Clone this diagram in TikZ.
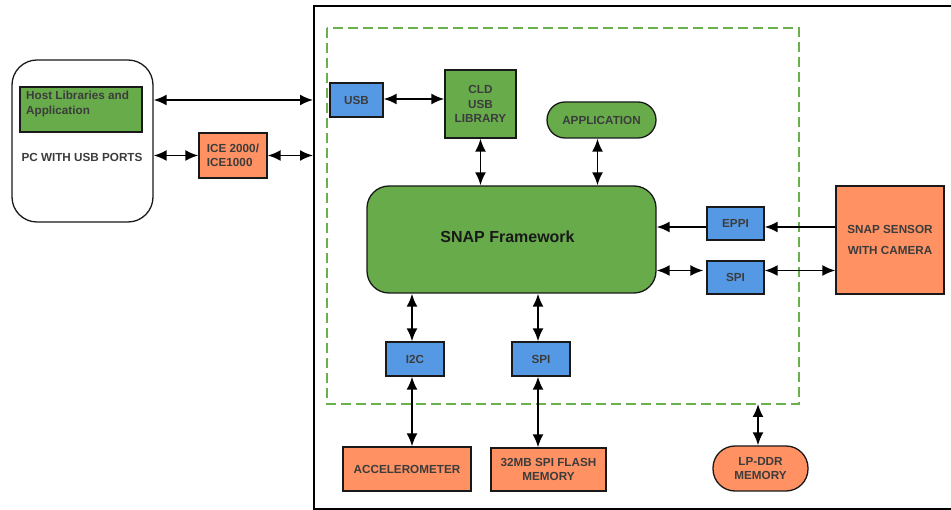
\documentclass[tikz,border=0pt]{standalone}
\usepackage{fontspec}
\setmainfont{Liberation Sans}
\usetikzlibrary{arrows.meta,calc}
\definecolor{gfill}{HTML}{67AB4B}
\definecolor{bfill}{HTML}{5599E5}
\definecolor{ofill}{HTML}{FF9163}
\definecolor{dgreen}{HTML}{6AB04C}
\definecolor{txt}{HTML}{3C3C3C}
\tikzset{
  lbl/.style={inner sep=0pt, font=\bfseries\fontsize{11.7}{14.5}\selectfont, text=txt, align=center},
  box/.style={lbl, draw=black!90, line width=1.3pt},
  gbox/.style={box, fill=gfill},
  bbox/.style={box, fill=bfill},
  obox/.style={box, fill=ofill},
  conn/.style={line width=1.9pt, {Latex[length=13pt,width=11pt]}-{Latex[length=13pt,width=11pt]}},
  onearr/.style={line width=1.9pt, -{Latex[length=13pt,width=11pt]}},
}
\begin{document}
\begin{tikzpicture}[x=1pt,y={(0pt,-1pt)}]
\useasboundingbox (0,0) rectangle (951,510);
% board outline
\draw[line width=1.6pt] (951,6) -- (314,6) -- (314,509) -- (951,509);
% dashed processor region
\draw[dgreen, line width=1.8pt, dash pattern=on 10pt off 5pt] (327,28) rectangle (799,404);
\coordinate (bh) at (313,100);
\coordinate (bi) at (313,155.5);
\coordinate (dd) at (758,404);

% PC side
\node[box, rounded corners=25pt, fill=white, minimum width=141, minimum height=162] (pc) at (82.5,141) {};
\node[gbox, minimum width=122, minimum height=45] (host) at (81,109.5) {};
\node[lbl, anchor=north west, align=left] (hostt) at (26,91) {Host Libraries and\\Application};
\node[lbl] (pct) at (82,157) {PC WITH USB PORTS};
\node[obox, minimum width=68, minimum height=45, align=left] (ice) at (233,155.5) {ICE 2000/\\ICE1000};

% processor blocks
\node[bbox, minimum width=53, minimum height=34] (usb) at (356.5,100) {USB};
\node[gbox, minimum width=71, minimum height=68] (cld) at (480.5,104) {CLD\\USB\\LIBRARY};
\node[gbox, rounded corners=18pt, minimum width=109, minimum height=36] (app) at (601.5,120) {APPLICATION};
\node[gbox, rounded corners=22pt, minimum width=289, minimum height=107, text=black!90, font=\bfseries\fontsize{16}{19}\selectfont] (snap) at (511.5,239.5) {\raisebox{6pt}{SNAP Framework\hspace{8pt}}};
\node[bbox, minimum width=57, minimum height=33] (eppi) at (735.5,223.5) {EPPI};
\node[bbox, minimum width=57, minimum height=33] (spir) at (735.5,277.5) {SPI};
\node[obox, minimum width=108, minimum height=108, font=\bfseries\fontsize{11.7}{21.5}\selectfont] (sensor) at (890,240) {\raisebox{-3pt}{SNAP SENSOR}\\\raisebox{-3pt}{WITH CAMERA}};
\node[bbox, minimum width=58, minimum height=34] (i2c) at (415,359) {I2C};
\node[bbox, minimum width=58, minimum height=34] (spib) at (541,359) {SPI};
\node[obox, minimum width=128, minimum height=44] (accel) at (407,469) {ACCELEROMETER};
\node[obox, minimum width=115, minimum height=43] (flash) at (548.5,469.5) {32MB SPI FLASH\\MEMORY};
\node[obox, rounded corners=22pt, minimum width=95, minimum height=45] (lpddr) at (760.5,468.5) {LP-DDR\\MEMORY};

% connectors
\draw[conn] (pc.east |- bh) -- (bh);
\draw[conn] (pc.east |- ice.west) -- (ice.west);
\draw[conn] (ice.east) -- (bi);
\draw[conn] ($(usb.east)+(0,-1)$) -- ($(cld.west |- usb.east)+(0,-1)$);
\draw[conn] (cld.south) -- (cld.south |- snap.north);
\draw[conn] ($(app.south)+(-4,0)$) -- ($(snap.north -| app.south)+(-4,0)$);
\draw[onearr] ($(eppi.west)+(0,3.5)$) -- ($(snap.east |- eppi.west)+(0,3.5)$);
\draw[onearr] ($(sensor.west |- eppi.east)+(0,3.5)$) -- ($(eppi.east)+(0,3.5)$);
\draw[conn] ($(snap.east |- spir.west)+(0,-7)$) -- ($(spir.west)+(-3,-7)$);
\draw[conn] ($(spir.east)+(0,-7)$) -- ($(sensor.west |- spir.east)+(0,-7)$);
\draw[conn] ($(snap.south -| i2c.north)+(-3,0)$) -- ($(i2c.north)+(-3,0)$);
\draw[conn] ($(i2c.south)+(-3,0)$) -- ($(accel.north -| i2c.south)+(-3,0)$);
\draw[conn] ($(snap.south -| spib.north)+(-3,0)$) -- ($(spib.north)+(-3,0)$);
\draw[conn] ($(spib.south)+(-3,0)$) -- ($(flash.north -| spib.south)+(-3,0)$);
\draw[conn] (dd) -- (dd |- lpddr.north);
\end{tikzpicture}
\end{document}
